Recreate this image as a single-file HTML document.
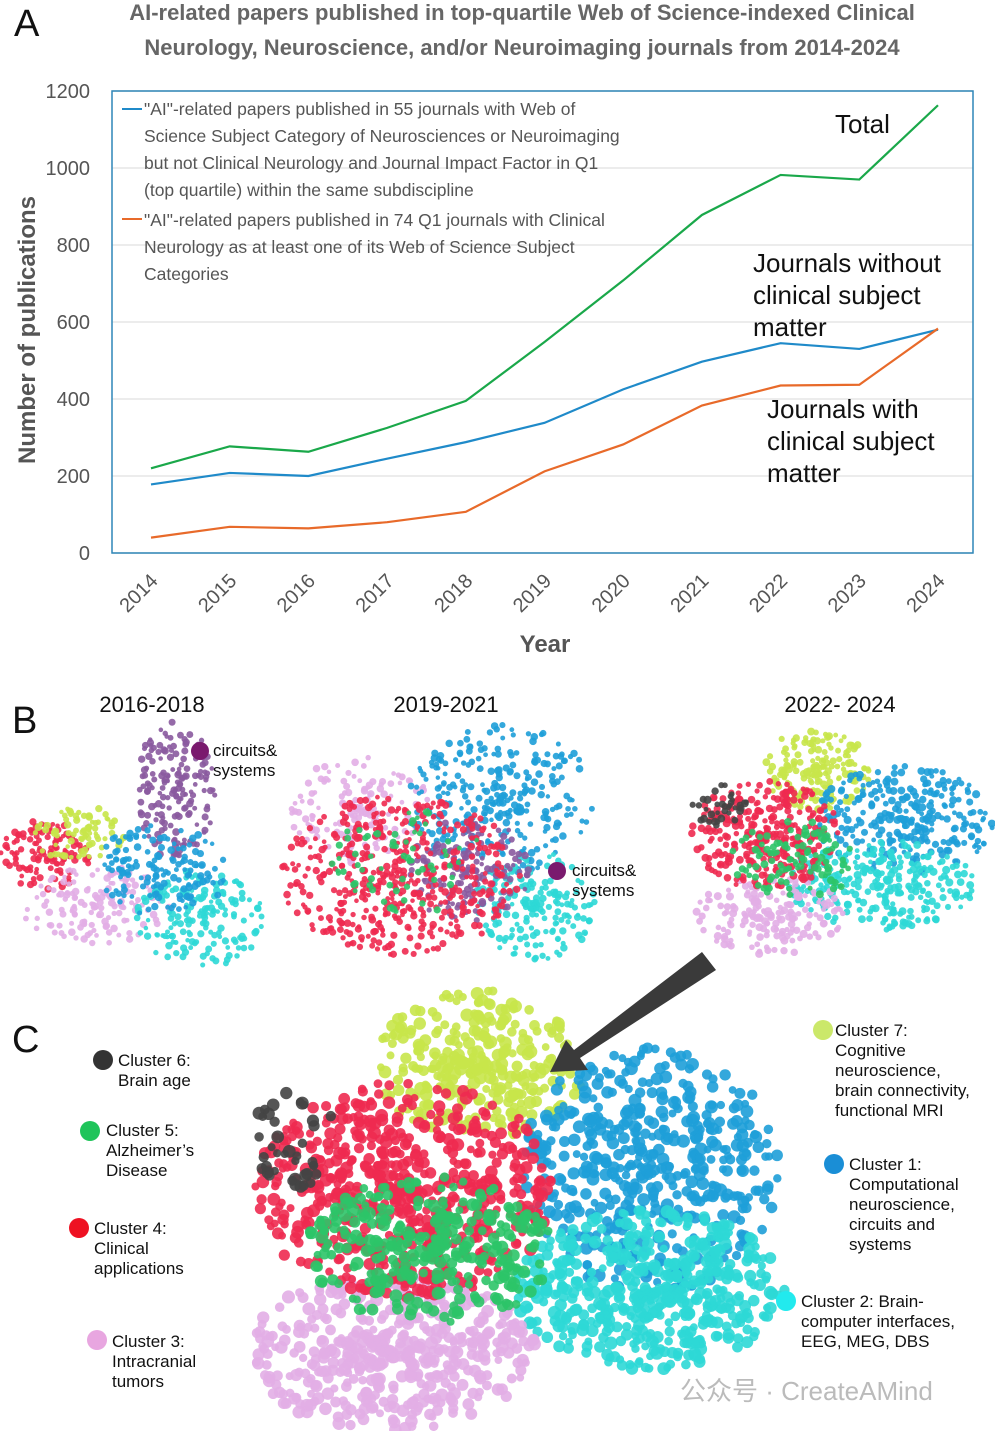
<!DOCTYPE html>
<html><head><meta charset="utf-8">
<style>
body{margin:0;background:#fff;width:995px;height:1431px;overflow:hidden;font-family:"Liberation Sans","Noto Sans CJK SC",sans-serif;}
svg{position:absolute;left:0;top:0}
text{font-family:"Liberation Sans","Noto Sans CJK SC",sans-serif}
</style></head>
<body>
<svg id="fig" width="995" height="1431" viewBox="0 0 995 1431" xmlns="http://www.w3.org/2000/svg">
<text x="14" y="36" font-size="38" fill="#111">A</text>
<text x="522" y="20" font-size="22" font-weight="bold" fill="#666" text-anchor="middle">AI-related papers published in top-quartile Web of Science-indexed Clinical</text>
<text x="522" y="55" font-size="22" font-weight="bold" fill="#666" text-anchor="middle">Neurology, Neuroscience, and/or Neuroimaging journals from 2014-2024</text>
<g id="grid"></g>
<rect x="112" y="91" width="861" height="462" fill="none" stroke="#2e86b8" stroke-width="1.5"/>
<g id="yt"></g>
<g id="xt"></g>
<text transform="translate(35,330) rotate(-90)" font-size="24" font-weight="bold" fill="#555" text-anchor="middle">Number of publications</text>
<text x="545" y="652" font-size="24" font-weight="bold" fill="#555" text-anchor="middle">Year</text>
<g id="lines"></g>
<g font-size="17.5" fill="#555">
<line x1="122" y1="109" x2="142" y2="109" stroke="#1f8ac9" stroke-width="2"/>
<text x="144" y="115">"AI"-related papers published in 55 journals with Web of</text>
<text x="144" y="142">Science Subject Category of Neurosciences or Neuroimaging</text>
<text x="144" y="169">but not Clinical Neurology and Journal Impact Factor in Q1</text>
<text x="144" y="196">(top quartile) within the same subdiscipline</text>
<line x1="122" y1="219" x2="142" y2="219" stroke="#e86a2a" stroke-width="2"/>
<text x="144" y="226">"AI"-related papers published in 74 Q1 journals with Clinical</text>
<text x="144" y="253">Neurology as at least one of its Web of Science Subject</text>
<text x="144" y="280">Categories</text>
</g>
<g font-size="26" fill="#111">
<text x="835" y="133">Total</text>
<text x="753" y="272">Journals without</text>
<text x="753" y="304">clinical subject</text>
<text x="753" y="336">matter</text>
<text x="767" y="418">Journals with</text>
<text x="767" y="450">clinical subject</text>
<text x="767" y="482">matter</text>
</g>
<text x="12" y="733" font-size="38" fill="#111">B</text>
<text x="152" y="712" font-size="22" fill="#111" text-anchor="middle">2016-2018</text>
<text x="446" y="712" font-size="22" fill="#111" text-anchor="middle">2019-2021</text>
<text x="840" y="712" font-size="22" fill="#111" text-anchor="middle">2022- 2024</text>
<text x="12" y="1052" font-size="38" fill="#111">C</text>
<g id="net"></g>
<polygon points="702,952 716,970 580,1058 588,1070 550,1072 566,1040 574,1050" fill="#3a3a3a"/>
<g font-size="17" fill="#111">
<circle cx="200" cy="751" r="9" fill="#7a1a6e"/><text x="213" y="756">circuits&amp;</text><text x="213" y="776">systems</text>
<circle cx="557" cy="871" r="9" fill="#7a1a6e"/><text x="572" y="876">circuits&amp;</text><text x="572" y="896">systems</text>
<circle cx="103" cy="1060" r="10" fill="#333"/><text x="118" y="1066">Cluster 6:</text><text x="118" y="1086">Brain age</text>
<circle cx="90" cy="1131" r="10" fill="#1fc45a"/><text x="106" y="1136">Cluster 5:</text><text x="106" y="1156">Alzheimer’s</text><text x="106" y="1176">Disease</text>
<circle cx="79" cy="1228" r="10" fill="#ee1122"/><text x="94" y="1234">Cluster 4:</text><text x="94" y="1254">Clinical</text><text x="94" y="1274">applications</text>
<circle cx="97" cy="1340" r="10" fill="#e8a6e0"/><text x="112" y="1347">Cluster 3:</text><text x="112" y="1367">Intracranial</text><text x="112" y="1387">tumors</text>
<circle cx="823" cy="1030" r="10" fill="#cbe86a"/><text x="835" y="1036">Cluster 7:</text><text x="835" y="1056">Cognitive</text><text x="835" y="1076">neuroscience,</text><text x="835" y="1096">brain connectivity,</text><text x="835" y="1116">functional MRI</text>
<circle cx="834" cy="1164" r="10" fill="#1a8ed6"/><text x="849" y="1170">Cluster 1:</text><text x="849" y="1190">Computational</text><text x="849" y="1210">neuroscience,</text><text x="849" y="1230">circuits and</text><text x="849" y="1250">systems</text>
<circle cx="786" cy="1301" r="10" fill="#22eaee"/><text x="801" y="1307">Cluster 2: Brain-</text><text x="801" y="1327">computer interfaces,</text><text x="801" y="1347">EEG, MEG, DBS</text>
</g>
<text x="680" y="1400" font-size="26" fill="#bbb">公众号 · CreateAMind</text>
</svg>
<script>
const years=[2014,2015,2016,2017,2018,2019,2020,2021,2022,2023,2024];
const totalVals=[220,277,263,325,395,548,708,878,982,970,1163];
const withoutVals=[178,208,200,245,288,338,425,497,545,530,580];
const withVals=[40,68,64,80,107,212,282,383,435,437,583];
const yTicks=[0,200,400,600,800,1000,1200];
const NS='http://www.w3.org/2000/svg';
function sx(y){return 151+(y-2014)*(938-151)/10;}
function sy(v){return 553-v*(553-91)/1200;}
function mk(t,a,p){const e=document.createElementNS(NS,t);for(const k in a)e.setAttribute(k,a[k]);p.appendChild(e);return e;}
const grid=document.getElementById('grid'),yt=document.getElementById('yt'),xt=document.getElementById('xt'),lines=document.getElementById('lines');
yTicks.forEach(v=>{
 const l=mk('line',{x1:112,x2:973,y1:sy(v),y2:sy(v),stroke:'#e6e6e6','stroke-width':1.5},grid);
 
 
 const t=mk('text',{x:90,y:sy(v)+7,'font-size':20,fill:'#555','text-anchor':'end'},yt);
 
 
 t.textContent=v;
});
years.forEach(y=>{
 const t=mk('text',{transform:`translate(${sx(y)+8},${582}) rotate(-45)`,'font-size':20,fill:'#555','text-anchor':'end'},xt);
 
 
 t.textContent=y;
});
[[totalVals,'#1aa84a','line-total'],[withoutVals,'#1f8ac9','line-without-clinical'],[withVals,'#e86a2a','line-with-clinical']].forEach(([vals,c,n])=>{
 const p=mk('polyline',{points:vals.map((v,i)=>sx(years[i])+','+sy(v)).join(' '),fill:'none',stroke:c,'stroke-width':2.2},lines);
 
 
});
// network decoration
let seed=7;function rnd(){seed=(seed*16807)%2147483647;return seed/2147483647;}
const C={red:'#ee2a50',pink:'#e2aee6',green:'#2cc468',lime:'#c8e64a',blue:'#1e9ed8',cyan:'#2ed8d6',purple:'#8a5a9e',black:'#444'};
const net=document.getElementById('net');
function panel(name,list,r){const grp=mk('g',{},net);
 list.forEach(a=>{for(let i=0;i<a[5];i++){const ang=rnd()*6.2832,d=Math.pow(rnd(),0.65);
  mk('circle',{cx:a[0]+Math.cos(ang)*d*a[2],cy:a[1]+Math.sin(ang)*d*a[3],r:r*(0.7+rnd()*0.5),fill:C[a[4]],'fill-opacity':0.9},grp);}});}
panel('network-2016-2018',[[175,790,40,70,'purple',170],[45,855,45,35,'red',130],[80,835,45,30,'lime',80],[95,905,75,40,'pink',150],[200,920,65,50,'cyan',170],[160,870,70,45,'blue',150]],3.2);
panel('network-2019-2021',[[360,810,70,55,'pink',150],[500,800,95,75,'blue',300],[535,905,60,55,'cyan',180],[470,870,60,55,'purple',150],[400,875,120,80,'red',480],[410,860,80,55,'green',70]],3.2);
panel('network-2022-2024',[[815,770,55,40,'lime',180],[905,820,90,55,'blue',280],[880,885,95,45,'cyan',280],[770,915,75,40,'pink',180],[765,835,75,55,'red',300],[795,860,65,40,'green',110],[720,805,28,22,'black',35]],3.4);
panel('network-cluster-detail',[[480,1065,105,75,'lime',300],[650,1170,130,125,'blue',480],[650,1290,135,80,'cyan',500],[390,1350,145,80,'pink',480],[405,1190,150,110,'red',600],[430,1250,125,75,'green',300],[300,1140,50,50,'black',40]],5.5);
</script>
</body></html>
